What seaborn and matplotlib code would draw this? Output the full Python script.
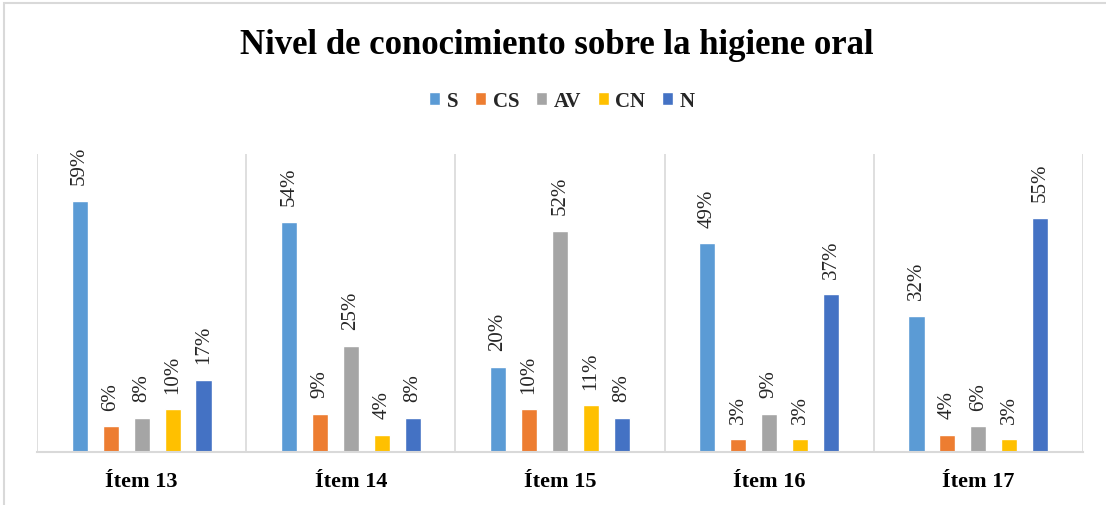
import matplotlib
matplotlib.use("Agg")
import matplotlib.pyplot as plt
import seaborn as sns
import pandas as pd
from matplotlib.patches import Rectangle

items = ["Ítem 13", "Ítem 14", "Ítem 15", "Ítem 16", "Ítem 17"]
series = ["S", "CS", "AV", "CN", "N"]
S  = [59, 54, 20, 49, 32]
CS = [6, 9, 10, 3, 4]
AV = [8, 25, 52, 9, 6]
CN = [10, 4, 11, 3, 3]
N  = [17, 8, 8, 37, 55]
colors = ["#5B9BD5", "#ED7D31", "#A5A5A5", "#FFC000", "#4472C4"]
title = "Nivel de conocimiento sobre la higiene oral"

rows = []
for name, vals in zip(series, [S, CS, AV, CN, N]):
    for it, v in zip(items, vals):
        rows.append({"item": it, "serie": name, "valor": v})
df = pd.DataFrame(rows)

sns.set_theme(style="white")
plt.rcParams["font.family"] = ["Liberation Serif", "DejaVu Serif"]

fig = plt.figure(figsize=(11.06, 5.06), dpi=100)
ax = fig.add_axes([37/1106, 1-453/506, (1083-37)/1106, (453-155)/506])

sns.barplot(data=df, x="item", y="valor", hue="serie", order=items,
            hue_order=series, palette=colors, width=0.74, gap=0.48,
            saturation=1, ax=ax, legend=True)

for cont in ax.containers:
    for bar in cont:
        h = bar.get_height()
        ax.annotate(f"{int(round(h))}%", (bar.get_x() + bar.get_width()/2, h),
                    xytext=(0, 12), textcoords="offset points",
                    rotation=90, ha="center", va="bottom", fontsize=15,
                    color="#262626")

ax.set_ylim(0, 70)
ax.set_xlim(-0.5, 4.5)
ax.set_yticks([])
ax.set_xlabel("")
ax.set_ylabel("")
for b in [-0.5, 0.5, 1.5, 2.5, 3.5, 4.5]:
    ax.axvline(b, color="#D9D9D9", lw=1.2, zorder=0)
for s in ["top", "left", "right"]:
    ax.spines[s].set_visible(False)
ax.spines["bottom"].set_color("#D9D9D9")
ax.spines["bottom"].set_linewidth(1.5)
ax.tick_params(axis="x", length=0, pad=14)
for lbl in ax.get_xticklabels():
    lbl.set_fontweight("bold")
    lbl.set_fontsize(16)
    lbl.set_color("#000000")

handles, labels = ax.get_legend_handles_labels()
ax.get_legend().remove()
fig.legend(handles, labels, loc="center", bbox_to_anchor=(0.508, 1-102/506),
           ncol=5, frameon=False, handlelength=0.55, handleheight=0.55,
           handletextpad=0.3, columnspacing=0.8,
           prop={"weight": "bold", "size": 15})

fig.text(0.503, 1-45/506, title, ha="center", va="center",
         fontsize=25, fontweight="bold", color="#000000")

fig.patches.append(Rectangle((4/1106, -0.1), 1.2, 1-4/506+0.1,
                             transform=fig.transFigure, fill=False,
                             edgecolor="#D9D9D9", lw=1.5, zorder=-1))

fig.savefig("out.png", dpi=100)
